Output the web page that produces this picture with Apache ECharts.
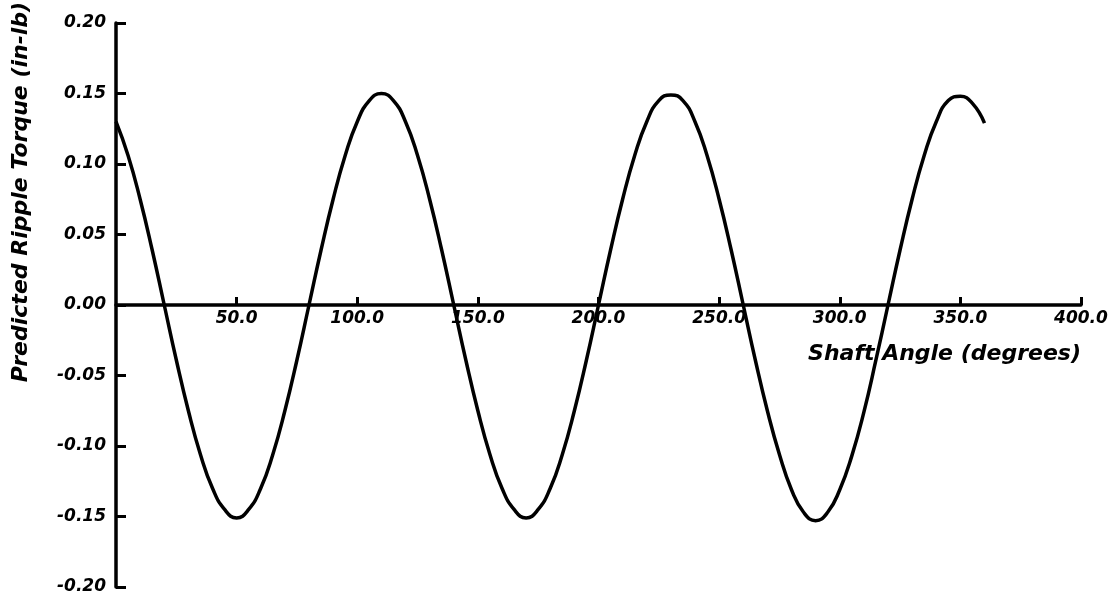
<!DOCTYPE html>
<html>
<head>
<meta charset="utf-8"/>
<script src="https://cdn.jsdelivr.net/npm/echarts@6/dist/echarts.min.js"></script>
<style>
  html, body { margin: 0; padding: 0; background: #fff; }
  #main { width: 1118px; height: 597px; }
</style>
</head>
<body>
<div id="main"></div>
<script>
// shaft angle (degrees) and predicted ripple torque (in-lb)
var angle = [0, 5, 10, 15, 20, 25, 30, 35, 40, 45, 50, 55, 60, 65, 70, 75, 80, 85, 90, 95,
  100, 105, 110, 115, 120, 125, 130, 135, 140, 145, 150, 155, 160, 165, 170, 175, 180, 185, 190, 195,
  200, 205, 210, 215, 220, 225, 230, 235, 240, 245, 250, 255, 260, 265, 270, 275, 280, 285, 290, 295,
  300, 305, 310, 315, 320, 325, 330, 335, 340, 345, 350, 355, 360];
var torque = [0.130, 0.106, 0.075, 0.039, 0.000, -0.039, -0.075, -0.106, -0.130, -0.145,
  -0.151, -0.145, -0.130, -0.106, -0.075, -0.039, 0.000, 0.039, 0.075, 0.106,
  0.130, 0.145, 0.150, 0.145, 0.130, 0.106, 0.075, 0.039, 0.000, -0.039,
  -0.075, -0.106, -0.130, -0.145, -0.151, -0.145, -0.130, -0.106, -0.075, -0.039,
  0.000, 0.039, 0.075, 0.106, 0.130, 0.145, 0.149, 0.145, 0.130, 0.106,
  0.075, 0.039, 0.000, -0.039, -0.075, -0.106, -0.131, -0.147, -0.153, -0.147,
  -0.131, -0.107, -0.076, -0.039, 0.000, 0.039, 0.075, 0.106, 0.130, 0.145,
  0.148, 0.143, 0.129];

var xTitle = 'Shaft Angle (degrees)';
var yTitle = 'Predicted Ripple Torque (in-lb)';

var pts = [];
for (var i = 0; i < angle.length; i++) {
  pts.push([angle[i], torque[i]]);
}

var fnt = 'DejaVu Sans';
var gridTop = 23, gridBottom = 10;
var gridH = 597 - gridTop - gridBottom;

var myChart = echarts.init(document.getElementById('main'));
var option = {
  animation: false,
  backgroundColor: '#fff',
  grid: { left: 116, right: 37, top: gridTop, bottom: gridBottom, containLabel: false },
  xAxis: {
    type: 'value',
    min: 0, max: 400, interval: 50,
    // x axis sits on y = 0, halfway up the grid
    offset: -gridH / 2,
    axisLine: { onZero: false, lineStyle: { color: '#000', width: 3.5 } },
    axisTick: { inside: true, length: 8, lineStyle: { color: '#000', width: 3 } },
    axisLabel: {
      showMinLabel: false,
      margin: 5,
      color: '#000', fontFamily: fnt, fontSize: 17, fontWeight: 'bold', fontStyle: 'italic',
      formatter: function (v) { return v.toFixed(1); }
    },
    splitLine: { show: false }
  },
  yAxis: {
    type: 'value',
    min: -0.2, max: 0.2, interval: 0.05,
    axisLine: { onZero: false, lineStyle: { color: '#000', width: 3.5 } },
    axisTick: { inside: true, length: 10, lineStyle: { color: '#000', width: 3 } },
    axisLabel: {
      margin: 10,
      color: '#000', fontFamily: fnt, fontSize: 17, fontWeight: 'bold', fontStyle: 'italic',
      formatter: function (v) { return v.toFixed(2); }
    },
    splitLine: { show: false }
  },
  graphic: [
    {
      type: 'text', x: 1081, y: 354,
      style: {
        text: xTitle, fill: '#000', align: 'right', verticalAlign: 'middle',
        font: 'italic bold 22px "DejaVu Sans"'
      }
    },
    {
      type: 'text', x: 21, y: 192, rotation: Math.PI / 2,
      style: {
        text: yTitle, fill: '#000', align: 'center', verticalAlign: 'middle',
        font: 'italic bold 22px "DejaVu Sans"'
      }
    }
  ],
  series: [{
    type: 'line',
    data: pts,
    smooth: true,
    symbol: 'none',
    clip: false,
    lineStyle: { color: '#000', width: 3.5 }
  }]
};
myChart.setOption(option);
</script>
</body>
</html>
